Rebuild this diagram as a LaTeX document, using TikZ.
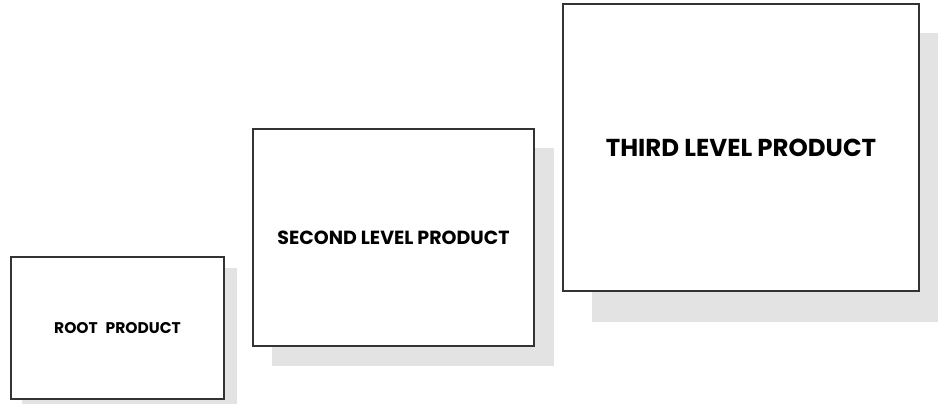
\documentclass[tikz,border=0pt]{standalone}
\usepackage{fontspec}
\setsansfont{Poppins}
\usepackage{tikz}
\usetikzlibrary{calc,backgrounds}
\definecolor{boxline}{HTML}{333333}
\definecolor{shadowfill}{HTML}{E3E3E3}
\tikzset{
  % --- product boxes ---
  prodbox/.style={draw=boxline, line width=1.2pt, fill=white, align=center,
                  inner sep=0pt, font=\sffamily\bfseries},
  prodshadow/.style={fill=shadowfill},
}

\begin{document}
\begin{tikzpicture}[x=1pt,y=-1pt]
  \useasboundingbox (0,0) rectangle (938,404);
  % products, growing level by level
  \node[prodbox,minimum width=213pt,minimum height=142pt,
        font=\sffamily\bfseries\fontsize{15.5}{17}\selectfont] (root) at (117.5,328)
        {ROOT\hspace{0.3em} PRODUCT};
  \node[prodbox,minimum width=281pt,minimum height=217pt,
        font=\sffamily\bfseries\fontsize{19}{21}\selectfont] (second) at (393.5,237.5)
        {SECOND LEVEL PRODUCT};
  \node[prodbox,minimum width=356pt,minimum height=287pt,
        font=\sffamily\bfseries\fontsize{24.5}{27}\selectfont] (third) at (741,147.5)
        {THIRD LEVEL PRODUCT};
  % shadows
  \begin{scope}[on background layer]
    \foreach \n/\d in {root/12, second/19.5, third/30} {
      \fill[prodshadow] ($(\n.south west)+(\d,\d)$) rectangle ($(\n.north east)+(\d,\d)$);
    }
  \end{scope}
\end{tikzpicture}
\end{document}
